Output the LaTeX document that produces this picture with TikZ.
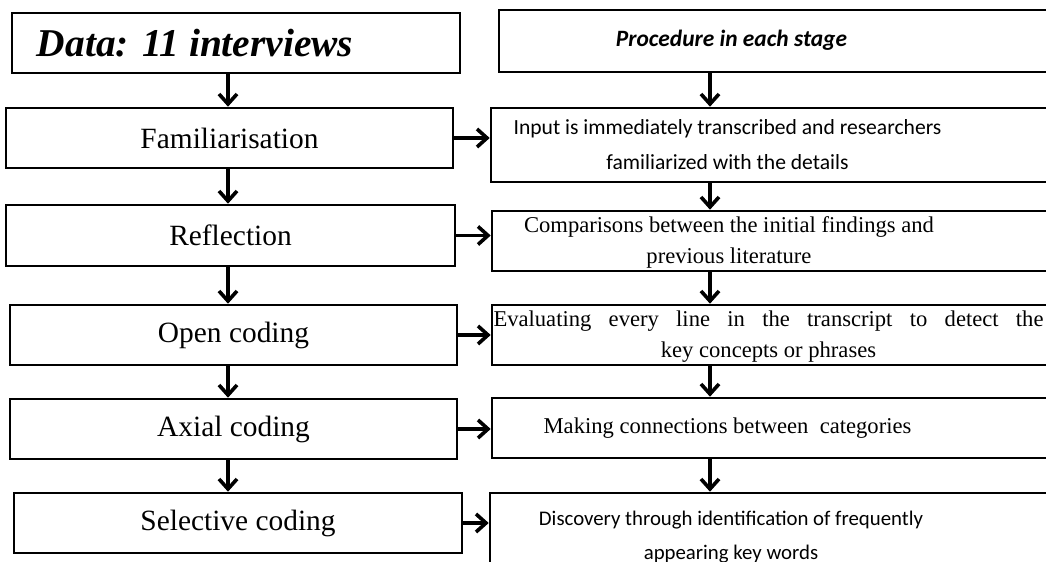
\documentclass[tikz,border=0pt]{standalone}
\usepackage{fontspec}
\setmainfont{Liberation Serif}
\newfontfamily\calibri{Carlito}
\usetikzlibrary{arrows.meta}

\tikzset{
    stagebox/.style={draw, line width=1.3pt, inner sep=0pt, font=\fontsize{14.7}{17}\selectfont},
    procbox/.style={draw, line width=1.3pt, inner sep=0pt},
    proctext/.style={inner sep=0pt, align=center, font=\fontsize{11.3}{15.5}\selectfont},
    arr/.style={line width=1.8pt, -{Straight Barb[length=5pt, width=9pt, line width=1.8pt]}}
}

\begin{document}
\begin{tikzpicture}[x=0.5pt, y=-0.5pt]
            \useasboundingbox (0,0) rectangle (1046,562);
            \clip (0,0) rectangle (1046,562);

            % left column
            \node[stagebox, minimum width=224pt, minimum height=30pt, text width=199pt, inner xsep=12.5pt, align=flush left,
                  font=\fontsize{19.7}{22}\selectfont\bfseries\itshape] (data) at (236,43) {Data: 11 interviews};
            \node[stagebox, minimum width=223.5pt, minimum height=30pt] (fam) at (229.5,138) {Familiarisation};
            \node[stagebox, minimum width=224.5pt, minimum height=30.5pt] (refl) at (230.5,235.5) {Reflection};
            \node[stagebox, minimum width=223.5pt, minimum height=30pt] (open) at (233.5,335) {Open coding};
            \node[stagebox, minimum width=223.5pt, minimum height=30pt] (axial) at (233.5,429) {Axial coding};
            \node[stagebox, minimum width=224pt, minimum height=30pt] (sel) at (238,523) {Selective coding};

            % right column (boxes run off the page on the right)
            \node[procbox, minimum width=275.5pt, minimum height=31pt] (proc) at (774.5,41) {};
            \node[procbox, minimum width=279.5pt, minimum height=37pt] (input) at (770.5,145) {};
            \node[procbox, minimum width=279pt, minimum height=30pt] (comp) at (771,241) {};
            \node[procbox, minimum width=279pt, minimum height=30pt] (eval) at (771,335) {};
            \node[procbox, minimum width=279pt, minimum height=30pt] (make) at (771,428) {};
            \node[procbox, minimum width=280pt, minimum height=38.5pt] (disc) at (770,531.5) {};

            \node[proctext, font=\calibri\fontsize{11.7}{14}\selectfont\bfseries\itshape] (proctxt) at (731.5,40) {Procedure in each stage};
            \node[proctext, font=\calibri\fontsize{10.8}{17.5}\selectfont] (inputtxt) at (727.5,145) {Input is immediately transcribed and researchers\\familiarized with the details};
            \node[proctext] (comptxt) at (729,242) {Comparisons between the initial findings and\\previous literature};
            \node[proctext] (evaltxt) at (768.5,337) {\makebox[275pt][s]{Evaluating every line in the transcript to detect the}\\key concepts or phrases};
            \node[proctext] (maketxt) at (727.5,428) {Making connections between\ \ categories};
            \node[proctext, font=\calibri\fontsize{10.4}{17}\selectfont] (disctxt) at (731,537) {Discovery through identification of frequently\\appearing key words};

            \coordinate (colL) at (228,0);
            \coordinate (colR) at (710,0);

            % downward arrows
            \foreach \a/\b in {data/fam, fam/refl, refl/open, open/axial, axial/sel}
                \draw[arr] (\a.south -| colL) -- (\b.north -| colL);
            \foreach \a/\b in {proc/input, input/comp, comp/eval, eval/make, make/disc}
                \draw[arr] (\a.south -| colR) -- (\b.north -| colR);

            % sideways arrows
            \draw[arr] (fam.east) -- (fam.east -| input.west);
            \draw[arr, yshift=-2.25pt] (refl.east) -- (refl.east -| comp.west);
            \draw[arr, yshift=-3.5pt] (open.east) -- (open.east -| eval.west);
            \draw[arr] (axial.east) -- (axial.east -| make.west);
            \draw[arr, yshift=-1pt] (sel.east) -- (sel.east -| disc.west);
\end{tikzpicture}
\end{document}
